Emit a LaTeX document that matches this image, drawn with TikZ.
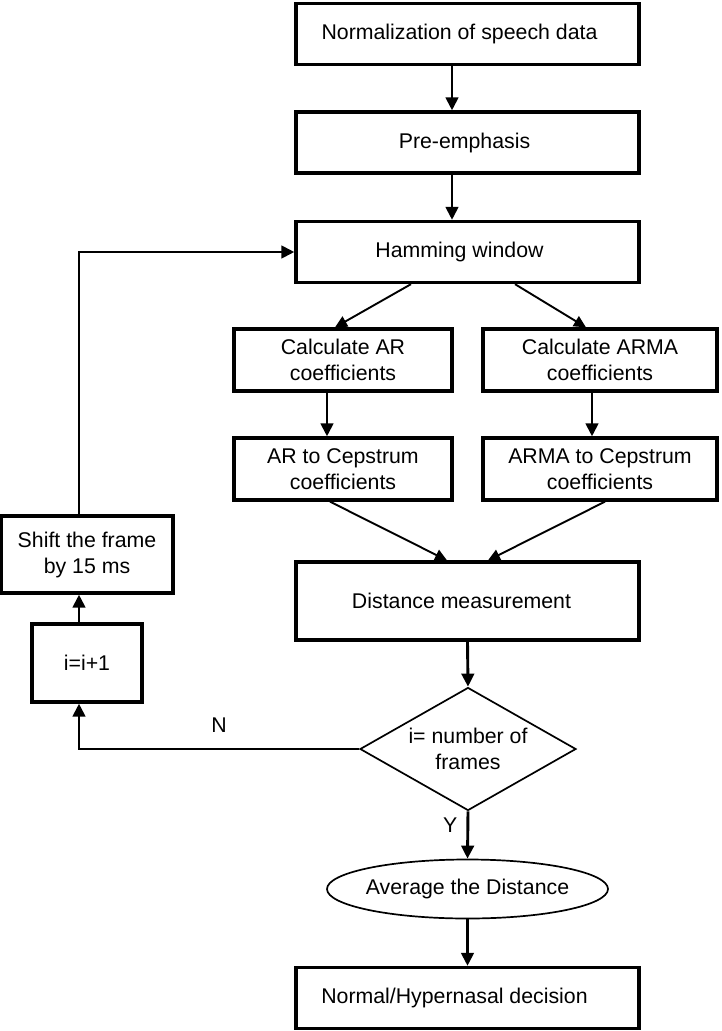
\documentclass[tikz,border=0pt]{standalone}
\usepackage{fontspec}
\setmainfont{Liberation Sans}
\usetikzlibrary{arrows.meta,shapes.geometric}

\begin{document}
\begin{tikzpicture}[x=1pt, y=-1pt,
      every node/.style={font=\fontsize{21.3}{26}\selectfont, align=center, inner sep=0pt},
      box/.style={draw, line width=3.3pt, minimum width=343pt, minimum height=61pt},
      flow/.style={line width=2.9pt, -{Triangle[length=13pt, width=12.5pt]}},
      slant/.style={line width=1.9pt, -{Triangle[length=12pt, width=11.5pt]}}
    ]
      \useasboundingbox (0,0) rectangle (722,1031);

      \node (norm) [box] at (467.5, 34) {Normalization of speech data\hspace{16pt}};
      \node (pre) [box] at (467.5, 142.5) {Pre-emphasis\hspace{6pt}};
      \node (ham) [box] at (467.5, 252) {Hamming window\hspace{16pt}};

      \node (ar) [box, minimum width=218pt, minimum height=62pt] at (343, 360) {Calculate AR\\coefficients};
      \node (arma) [box, minimum width=234pt, minimum height=62pt] at (600, 360) {Calculate ARMA\\coefficients};
      \node (arcep) [box, minimum width=218pt, minimum height=62pt] at (343, 469) {AR to Cepstrum\\coefficients};
      \node (armacep) [box, minimum width=234pt, minimum height=62pt] at (600, 469) {ARMA to Cepstrum\\coefficients};

      \node (dist) [box, minimum height=78pt] at (467.5, 601) {Distance measurement\hspace{12pt}};
      \node (dec) [diamond, draw, line width=1.7pt, aspect=1.76, minimum width=216pt, minimum height=123pt] at (468, 749) {i= number of\\frames};
      \node (avg) [ellipse, draw, line width=1.7pt, minimum width=281pt, minimum height=59pt] at (467.5, 889) {\makebox[0pt]{Average the Distance}};
      \node (fin) [box] at (467.5, 998) {Normal/Hypernasal decision\hspace{26pt}};

      \node (shift) [box, minimum width=172pt, minimum height=77pt] at (87, 554.5) {Shift the frame\\by 15 ms};
      \node (incr) [box, minimum width=110pt, minimum height=78pt] at (87, 663) {i=i+1};

      \draw [flow] ([xshift=-15.5pt]norm.south) -- ([xshift=-15.5pt]pre.north);
      \draw [flow] ([xshift=-15.5pt]pre.south) -- ([xshift=-15.5pt]ham.north);
      \draw [slant] ([xshift=-56.5pt]ham.south) -- ([xshift=-8pt]ar.north);
      \draw [slant] ([xshift=47.5pt]ham.south) -- ([xshift=-14pt]arma.north);
      \draw [flow] ([xshift=-16pt]ar.south) -- ([xshift=-16pt]arcep.north);
      \draw [flow] ([xshift=-8pt]arma.south) -- ([xshift=-8pt]armacep.north);
      \draw [slant] ([xshift=-13pt]arcep.south) -- ([xshift=-20.5pt]dist.north);
      \draw [slant] ([xshift=5pt]armacep.south) -- ([xshift=20.5pt]dist.north);
      \draw [flow] (dist.south) -- (dec.north);
      \draw [flow] (dec.south) -- (avg.north) node [pos=0.3, left=9pt] {Y};
      \draw [flow] (avg.south) -- (fin.north);

      \draw [flow] (dec.west) -| ([xshift=-8pt]incr.south) node [pos=0.25, above=15pt] {N};
      \draw [flow] ([xshift=-8pt]incr.north) -- ([xshift=-8pt]shift.south);
      \draw [flow] ([xshift=-8pt]shift.north) |- (ham.west);

    \end{tikzpicture}
\end{document}
